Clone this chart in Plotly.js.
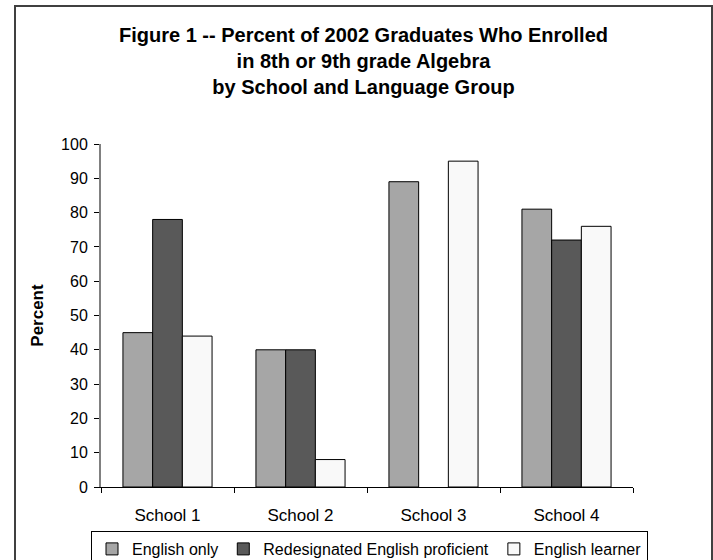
<!DOCTYPE html>
<html>
<head>
<meta charset="utf-8">
<script src="https://cdn.plot.ly/plotly-3.0.1.min.js"></script>
<style>
  html, body { margin: 0; padding: 0; background: #ffffff; }
  #chart { width: 713px; height: 560px; }
</style>
</head>
<body>
<div id="chart"></div>
<script>
const schools = ["School 1", "School 2", "School 3", "School 4"];
const englishOnly = [45, 40, 89, 81];
const redesignated = [78, 40, null, 72];
const englishLearner = [44, 8, 95, 76];
const seriesNames = ["English only", "Redesignated English proficient", "English learner"];
const seriesColors = ["#a6a6a6", "#595959", "#f9f9f9"];
const yTicks = [0, 10, 20, 30, 40, 50, 60, 70, 80, 90, 100];

const font = "Liberation Sans, Arial, sans-serif";
const seriesValues = [englishOnly, redesignated, englishLearner];

const traces = seriesValues.map((vals, i) => ({
  type: "bar",
  name: seriesNames[i],
  x: schools,
  y: vals,
  marker: { color: seriesColors[i], line: { color: "#000000", width: 1 } },
  hoverinfo: "x+y+name"
}));

const plotL = 101, plotR = 633, plotT = 144, plotB = 487;
const plotW = plotR - plotL, plotH = plotB - plotT;

const layout = {
  width: 713,
  height: 560,
  margin: { l: plotL, r: 713 - plotR, t: plotT, b: 560 - plotB, pad: 0, autoexpand: false },
  paper_bgcolor: "#ffffff",
  plot_bgcolor: "#ffffff",
  font: { family: font, size: 16, color: "#000000" },
  barmode: "group",
  bargap: 0.33,
  bargroupgap: 0,
  showlegend: true,
  title: {
    text: "<b>Figure 1 -- Percent of 2002 Graduates Who Enrolled<br>in 8th or 9th grade Algebra<br>by School and Language Group</b>",
    font: { family: font, size: 20, color: "#000000" },
    x: 0.4934, xref: "paper", xanchor: "center",
    y: 1 - 42 / 560, yref: "container", yanchor: "top"
  },
  xaxis: {
    type: "category",
    showline: true, linecolor: "#000000", linewidth: 1,
    ticks: "outside", tickson: "boundaries", ticklen: 5, tickcolor: "#000000", tickwidth: 1,
    ticklabelstandoff: 13,
    showgrid: false, zeroline: false,
    tickfont: { family: font, size: 17, color: "#000000" },
    automargin: false
  },
  yaxis: {
    range: [0, 100],
    tickvals: yTicks,
    ticktext: yTicks.map(String),
    showline: true, linecolor: "#808080", linewidth: 2,
    ticks: "outside", ticklen: 5, tickcolor: "#000000", tickwidth: 1,
    ticklabelstandoff: 3,
    showgrid: false, zeroline: false,
    tickfont: { family: font, size: 16, color: "#000000" },
    title: { text: "<b>Percent</b>", font: { family: font, size: 17, color: "#000000" }, standoff: 13 },
    automargin: false
  },
  legend: {
    orientation: "h",
    xref: "paper", x: (91 - plotL) / plotW, xanchor: "left",
    yref: "paper", y: (plotB - 531) / plotH, yanchor: "top",
    bordercolor: "#000000", borderwidth: 1,
    bgcolor: "#ffffff",
    font: { family: font, size: 16, color: "#000000" },
    itemwidth: 30,
    traceorder: "normal"
  },
  shapes: [{
    type: "rect", xref: "paper", yref: "paper",
    x0: (15 - plotL) / plotW, x1: (712 - plotL) / plotW,
    y0: (plotB - 575) / plotH, y1: (plotB - 6) / plotH,
    line: { color: "#404040", width: 2 },
    fillcolor: "rgba(0,0,0,0)",
    layer: "below"
  }]
};

Plotly.newPlot("chart", traces, layout, { displayModeBar: false, staticPlot: true });
</script>
</body>
</html>
